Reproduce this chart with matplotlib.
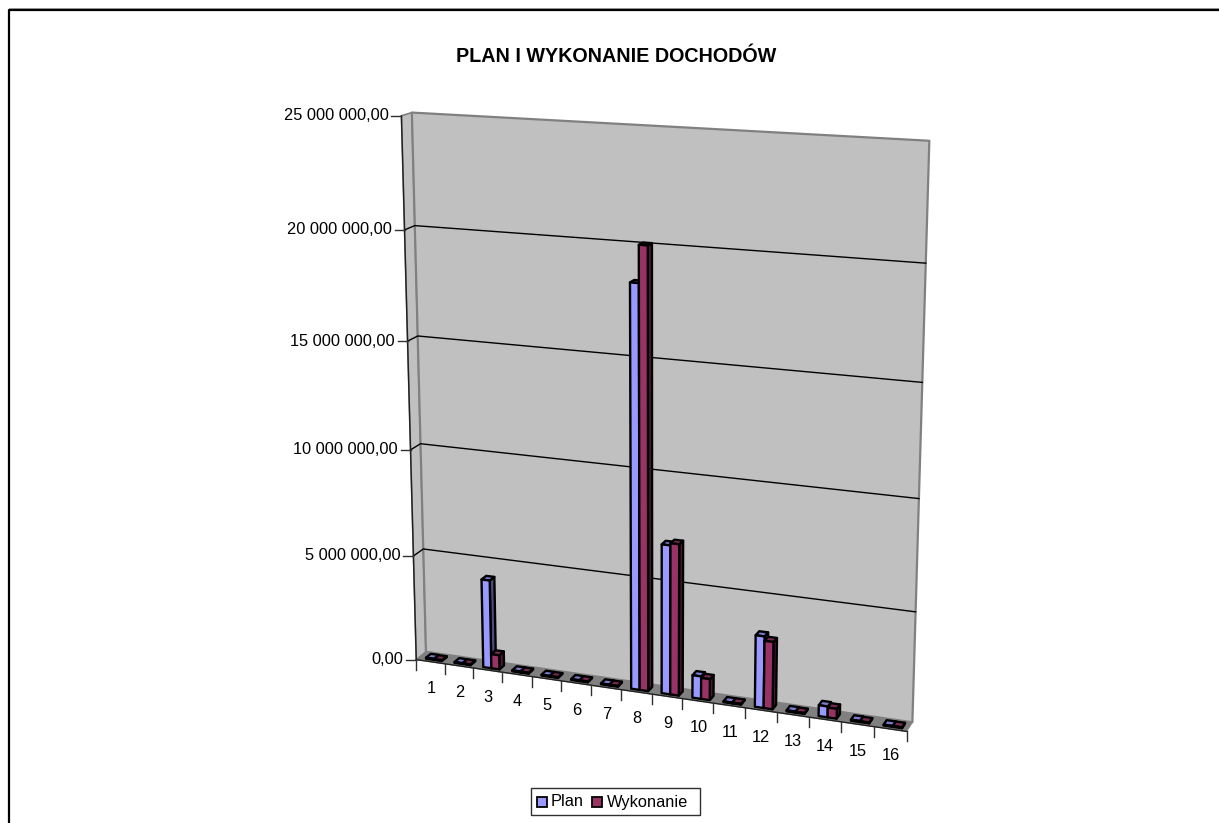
import matplotlib
matplotlib.use("Agg")
import matplotlib.pyplot as plt
import numpy as np
from matplotlib.patches import Polygon, Rectangle

plt.rcParams["font.family"] = ["Liberation Sans", "DejaVu Sans"]

# data
categories = [str(i) for i in range(1, 17)]
plan = [50000, 40000, 4200000, 50000, 40000, 40000, 40000, 18400000,
        6900000, 1050000, 40000, 3300000, 50000, 500000, 50000, 40000]
wykonanie = [40000, 40000, 680000, 50000, 40000, 40000, 40000, 20050000,
             7000000, 980000, 40000, 3100000, 40000, 450000, 40000, 40000]
value_ticks = [0, 5000000, 10000000, 15000000, 20000000, 25000000]
value_labels = ["0,00", "5 000 000,00", "10 000 000,00", "15 000 000,00",
                "20 000 000,00", "25 000 000,00"]
series_names = ["Plan", "Wykonanie"]

VMAX = 25000000.0
W, H = 1219, 823

# where the chart box lands in the picture: (u, v, d) -> (px, py)
# u along categories, v value fraction, d depth (0 front, 1 back)
control = [
    (0, 0, 0, 417, 659), (1, 0, 0, 907, 731),
    (0, 1, 0, 401, 116), (0, 0, 1, 425, 652),
    (1, 0, 1, 913, 722), (0, 1, 1, 412, 112),
    (1, 1, 1, 930, 141), (0, 0.8, 1, 415, 226),
    (1, 0.8, 1, 925, 263), (0, 0.2, 1, 424, 549),
    (1, 0.2, 1, 915, 612), (0.5, 0, 0, 651, 695),
    (0, 0.4, 0, 410, 450), (0, 0.6, 0, 408, 341),
]
rows = []
rhs = []
for u, v, d, px, py in control:
    rows.append([u, v, d, 1, 0, 0, 0, 0, -px * u, -px * v, -px * d])
    rhs.append(px)
    rows.append([0, 0, 0, 0, u, v, d, 1, -py * u, -py * v, -py * d])
    rhs.append(py)
P = np.linalg.lstsq(np.array(rows, float), np.array(rhs, float), rcond=None)[0]
P = np.append(P, 1.0).reshape(3, 4)


def proj(u, v, d):
    q = P @ np.array([u, v, d, 1.0])
    return q[0] / q[2], q[1] / q[2]


fig = plt.figure(figsize=(W / 100, H / 100), dpi=100)
ax = fig.add_axes([0, 0, 1, 1])
ax.set_xlim(0, W)
ax.set_ylim(H, 0)
ax.axis("off")

# outer frame, only top and left are inside the picture
ax.plot([9, 9, W + 5], [H + 5, 9.7, 9.7], color="black", lw=1.6, zorder=1)
ax.plot([9, W], [8.3, 8.3], color="#909090", lw=0.7, zorder=1)

ax.text(616, 56, "PLAN I WYKONANIE DOCHODÓW", fontsize=14.2, fontweight="bold",
        ha="center", va="center")


def face(pts, fc, ec="black", lw=1.7, z=3):
    ax.add_patch(Polygon([proj(*p) for p in pts], closed=True, facecolor=fc,
                         edgecolor=ec, linewidth=lw, zorder=z, joinstyle="round"))


# walls and floor
face([(0, 0, 0), (1, 0, 0), (1, 0, 1), (0, 0, 1)], "#808080", ec="#808080", lw=0.8, z=2)
face([(0, 0, 0), (0, 1, 0), (0, 1, 1), (0, 0, 1)], "#c0c0c0", ec="#808080", lw=1.2, z=2)
face([(0, 0, 1), (0, 1, 1), (1, 1, 1), (1, 0, 1)], "#c0c0c0", ec="#808080", lw=1.6, z=2)

# gridlines along back wall and side wall
for t in value_ticks[1:-1]:
    v = t / VMAX
    a, b, c = proj(0, v, 0), proj(0, v, 1), proj(1, v, 1)
    ax.plot([a[0], b[0], c[0]], [a[1], b[1], c[1]], color="black", lw=1.0, zorder=2.5)

# value axis
a, b = proj(0, 0, 0), proj(0, 1, 0)
ax.plot([a[0], b[0]], [a[1], b[1]], color="#202020", lw=1.0, zorder=2.6)
for t, lab in zip(value_ticks, value_labels):
    x, y = proj(0, t / VMAX, 0)
    ax.plot([x - 10, x], [y, y], color="#303030", lw=1.0, zorder=2.6)
    ax.text(x - 13, y, lab, ha="right", va="center", fontsize=11.8)

# category axis
a, b = proj(0, 0, 0), proj(1, 0, 0)
ax.plot([a[0], b[0]], [a[1], b[1]], color="#202020", lw=1.0, zorder=2.6)
n = len(categories)
for i in range(n + 1):
    x, y = proj(i / n, 0, 0)
    ax.plot([x, x], [y, y + 10], color="#303030", lw=1.0, zorder=2.6)
for i, lab in enumerate(categories):
    x, y = proj((i + 0.5) / n, 0, 0)
    ax.text(x + 0.5, y + 27, lab, ha="center", va="center", fontsize=11.8)

# columns
colors = {"Plan": ("#9999ff", "#4c4c80", "#7a7ad0"),
          "Wykonanie": ("#993366", "#4c1933", "#7a2952")}
BAR_LO, BAR_HI = 0.26, 0.82
D0, D1 = 0.25, 0.75
for i in range(n):
    for k, (name, vals) in enumerate(zip(series_names, (plan, wykonanie))):
        width = (BAR_HI - BAR_LO) / 2
        u0 = (i + BAR_LO + k * width) / n
        u1 = u0 + width / n
        v = vals[i] / VMAX
        front, side, top = colors[name]
        face([(u1, 0, D0), (u1, v, D0), (u1, v, D1), (u1, 0, D1)], side, z=3 + 0.1 * k)
        face([(u0, v, D0), (u0, v, D1), (u1, v, D1), (u1, v, D0)], top, z=3 + 0.1 * k)
        face([(u0, 0, D0), (u1, 0, D0), (u1, v, D0), (u0, v, D0)], front, z=3.05 + 0.1 * k)

# legend drawn by hand, same box as in the excel chart
ax.add_patch(Rectangle((531, 788), 169, 27, facecolor="white", edgecolor="#303030", lw=1.0, zorder=5))
ax.add_patch(Rectangle((536.5, 796.5), 10, 10, facecolor=colors["Plan"][0], edgecolor="black", lw=1.3, zorder=6))
ax.text(551, 802, series_names[0], ha="left", va="center", fontsize=11.8, zorder=6)
ax.add_patch(Rectangle((592, 796.5), 10, 10, facecolor=colors["Wykonanie"][0], edgecolor="black", lw=1.3, zorder=6))
ax.text(607, 802, series_names[1], ha="left", va="center", fontsize=11.8, zorder=6)

fig.savefig("out.png", dpi=100)
